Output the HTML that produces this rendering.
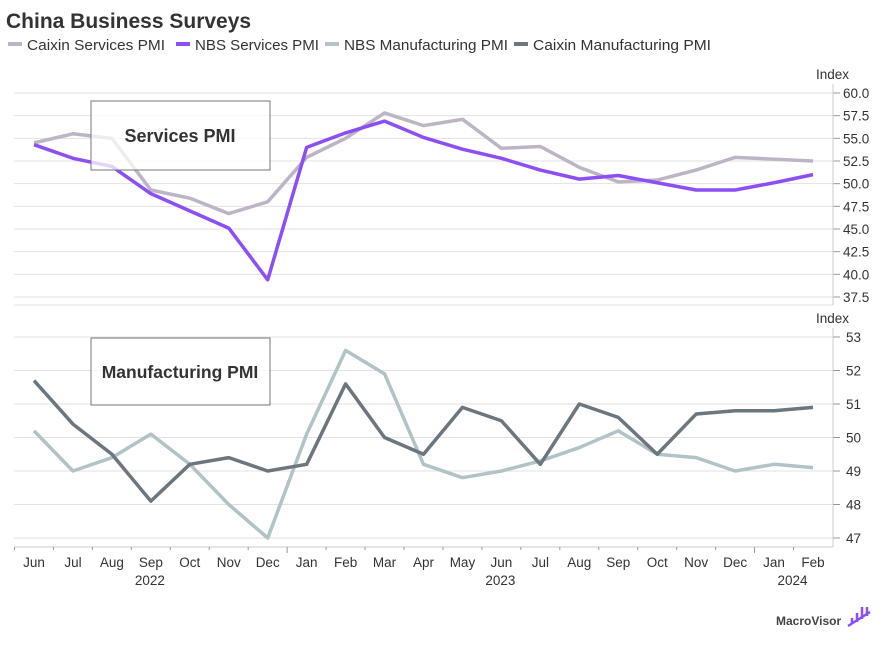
<!DOCTYPE html>
<html><head><meta charset="utf-8">
<style>
body{margin:0;background:#fff;width:882px;height:642px;overflow:hidden;font-family:"Liberation Sans",sans-serif}
</style></head>
<body>
<svg id="c" width="882" height="642" xmlns="http://www.w3.org/2000/svg" font-family="Liberation Sans, sans-serif">
<text x="6" y="28" font-size="21" font-weight="bold" fill="#333">China Business Surveys</text>
<g id="legend" font-size="14" fill="#333"></g>
<g id="grid"></g>
<g id="series"></g>
<rect x="91" y="101" width="179" height="69" fill="#fff" fill-opacity="0.75" stroke="#777"/>
<text x="180" y="142" text-anchor="middle" font-size="18" font-weight="bold" fill="#333">Services PMI</text>
<rect x="91" y="338" width="179" height="67" fill="#fff" fill-opacity="0.75" stroke="#777"/>
<text x="180" y="378" text-anchor="middle" font-size="17.5" font-weight="bold" fill="#333">Manufacturing PMI</text>
<text x="776" y="625" font-size="12" font-weight="bold" fill="#444">MacroVisor</text>
<path d="M848 626 l22 -14 M852 624 v-6 M857 622 v-9 M862 619 v-12 M867 616 v-9" stroke="#8c4ef5" stroke-width="2.5" fill="none"/>
</svg>
<script>
const months=["Jun","Jul","Aug","Sep","Oct","Nov","Dec","Jan","Feb","Mar","Apr","May","Jun","Jul","Aug","Sep","Oct","Nov","Dec","Jan","Feb"];
const years=[["2022",3],["2023",12],["2024",19.5]];
const caixinServices=[54.5,55.5,55.0,49.3,48.4,46.7,48.0,52.9,55.0,57.8,56.4,57.1,53.9,54.1,51.8,50.2,50.4,51.5,52.9,52.7,52.5];
const nbsServices=[54.3,52.8,51.9,48.9,47.0,45.1,39.4,54.0,55.6,56.9,55.1,53.8,52.8,51.5,50.5,50.9,50.1,49.3,49.3,50.1,51.0];
const nbsManufacturing=[50.2,49.0,49.4,50.1,49.2,48.0,47.0,50.1,52.6,51.9,49.2,48.8,49.0,49.3,49.7,50.2,49.5,49.4,49.0,49.2,49.1];
const caixinManufacturing=[51.7,50.4,49.5,48.1,49.2,49.4,49.0,49.2,51.6,50.0,49.5,50.9,50.5,49.2,51.0,50.6,49.5,50.7,50.8,50.8,50.9];
const topTicks=[60,57.5,55,52.5,50,47.5,45,42.5,40,37.5];
const botTicks=[53,52,51,50,49,48,47];
const NS="http://www.w3.org/2000/svg";
function el(t,a,p){const e=document.createElementNS(NS,t);for(const k in a)e.setAttribute(k,a[k]);(p||document.getElementById('c')).appendChild(e);return e;}
const x=i=>34+i*(813-34)/20;
const yT=v=>93+(60-v)*(297-93)/22.5;
const yB=v=>337+(53-v)*(538-337)/6;
const grid=document.getElementById('grid');
topTicks.forEach(v=>{
 const l=el('line',{x1:14,x2:833,y1:yT(v),y2:yT(v),stroke:'#e2e2e2'},grid);
 
 
 el('line',{x1:833,x2:840,y1:yT(v),y2:yT(v),stroke:'#999'},grid);
 const t=el('text',{x:843,y:yT(v)+5,'font-size':13.5,fill:'#333'},grid);t.textContent=v.toFixed(1);
 
 
});
el('line',{x1:14,x2:833,y1:305,y2:305,stroke:'#e2e2e2'},grid);
el('line',{x1:833,x2:833,y1:84,y2:305,stroke:'#ccc'},grid);
el('line',{x1:833,x2:833,y1:328,y2:547,stroke:'#ccc'},grid);
let ti=el('text',{x:816,y:79,'font-size':13.5,fill:'#333'},grid);ti.textContent='Index';


ti=el('text',{x:816,y:323,'font-size':13.5,fill:'#333'},grid);ti.textContent='Index';


botTicks.forEach(v=>{
 const l=el('line',{x1:14,x2:833,y1:yB(v),y2:yB(v),stroke:'#e2e2e2'},grid);
 
 
 el('line',{x1:833,x2:840,y1:yB(v),y2:yB(v),stroke:'#999'},grid);
 const t=el('text',{x:846,y:yB(v)+5,'font-size':13.5,fill:'#333'},grid);t.textContent=v;
 
 
});
el('line',{x1:14,x2:833,y1:547,y2:547,stroke:'#ccc'},grid);
months.forEach((m,i)=>{
 const bx=x(i)-19.5;
 el('line',{x1:bx,x2:bx,y1:547,y2:(i==7||i==19)?553:550,stroke:'#999'},grid);
 const t=el('text',{x:x(i),y:567,'font-size':13.5,'text-anchor':'middle',fill:'#333'},grid);t.textContent=m;
 
 
});
years.forEach(([y,i])=>{
 const t=el('text',{x:x(i)-1,y:585,'font-size':13.5,'text-anchor':'middle',fill:'#333'},grid);t.textContent=y;
 
 
});
const ser=document.getElementById('series');
function line(data,fy,color,name){
 const p=el('polyline',{points:data.map((v,i)=>x(i)+','+fy(v)).join(' '),fill:'none',stroke:color,'stroke-width':3.5,'stroke-linejoin':'round'},ser);
 
 
}
line(caixinServices,yT,'#bdb4c5','caixin-services-line');
line(nbsServices,yT,'#8c4ef5','nbs-services-line');
line(nbsManufacturing,yB,'#b0c3c7','nbs-manufacturing-line');
line(caixinManufacturing,yB,'#6b767f','caixin-manufacturing-line');
const leg=document.getElementById('legend');
[["Caixin Services PMI",'#bdb4c5',8,138],["NBS Services PMI",'#8c4ef5',176,124],["NBS Manufacturing PMI",'#b0c3c7',325,164],["Caixin Manufacturing PMI",'#6b767f',514,178]].forEach(([n,c,lx,w])=>{
 const r=el('rect',{x:lx,y:42,width:14,height:4,fill:c},leg);
 
 
 const t=el('text',{x:lx+19,y:50,'font-size':15,fill:'#333',textLength:w,lengthAdjust:'spacingAndGlyphs'},leg);t.textContent=n;
 
 
});
</script>
</body></html>
